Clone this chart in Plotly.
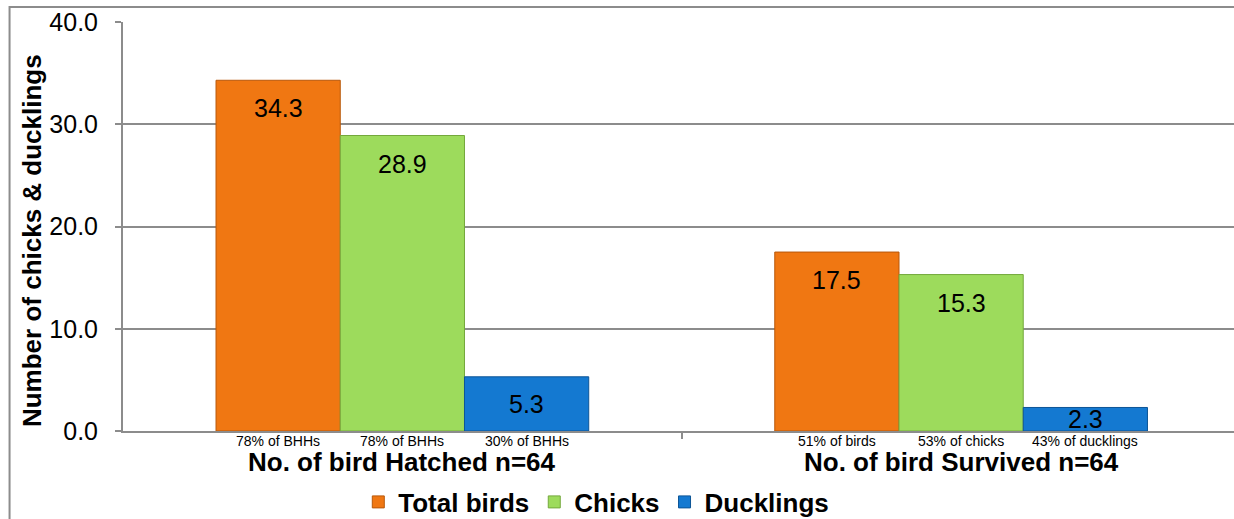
import plotly.graph_objects as go

categories = ["No. of bird Hatched n=64", "No. of bird Survived n=64"]
series_names = ["Total birds", "Chicks", "Ducklings"]
total_birds = [34.3, 17.5]
chicks = [28.9, 15.3]
ducklings = [5.3, 2.3]
pct_labels = [
    ["78% of BHHs", "51% of birds"],
    ["78% of BHHs", "53% of chicks"],
    ["30% of BHHs", "43% of ducklings"],
]
y_ticks = [0, 10, 20, 30, 40]

colors = ["#F07712", "#9DDB5C", "#1479D1"]
outlines = ["#B8580A", "#74A83C", "#0D5596"]
FONT = "Liberation Sans, Arial, sans-serif"

series = [total_birds, chicks, ducklings]
xpos = list(range(len(categories)))
bargap = 0.333
bar_w = (1 - bargap) / len(series)

fig = go.Figure()
for name, vals, c, oc in zip(series_names, series, colors, outlines):
    fig.add_trace(go.Bar(
        name=name, x=xpos, y=vals,
        marker=dict(color=c, line=dict(color=oc, width=1)),
    ))

annotations = []
px_per_unit = 409 / 40
for j, vals in enumerate(series):
    off = (j - (len(series) - 1) / 2) * bar_w
    for i, v in enumerate(vals):
        h = v * px_per_unit
        annotations.append(dict(
            x=i + off, y=v, xref="x", yref="y", text=f"{v:.1f}",
            showarrow=False, yanchor="middle", yshift=-min(28, h / 2),
            font=dict(family=FONT, size=25, color="black"),
        ))
        annotations.append(dict(
            x=i + off, y=0, xref="x", yref="y", text=pct_labels[j][i],
            showarrow=False, yanchor="middle", yshift=-10,
            font=dict(family=FONT, size=14, color="black"),
        ))
for i, cat in enumerate(categories):
    annotations.append(dict(
        x=i, y=0, xref="x", yref="y", text=f"<b>{cat}</b>",
        showarrow=False, yanchor="middle", yshift=-31,
        font=dict(family=FONT, size=26, color="black"),
    ))
annotations.append(dict(
    x=(32 - 123) / 1111.5, y=(431 - 241) / 409, xref="paper", yref="paper",
    text="<b>Number of chicks &amp; ducklings</b>", textangle=-90,
    showarrow=False, xanchor="center", yanchor="middle",
    font=dict(family=FONT, size=26, color="black"),
))

fig.update_layout(
    width=1234, height=519,
    margin=dict(l=123, r=0, t=22, b=88),
    paper_bgcolor="white", plot_bgcolor="white",
    barmode="group", bargap=bargap, bargroupgap=0,
    font=dict(family=FONT, color="black"),
    showlegend=True,
    legend=dict(
        orientation="h", x=0.426, xanchor="center",
        yref="container", y=(519 - 502) / 519, yanchor="middle",
        font=dict(family=FONT, size=26, color="black", weight="bold"),
        bgcolor="rgba(0,0,0,0)",
    ),
    annotations=annotations,
    shapes=[dict(
        type="rect", xref="paper", yref="paper",
        x0=(9.5 - 123) / 1111.5, x1=1.2, y0=-1, y1=1 + 15 / 409,
        line=dict(color="#8C8C8C", width=2), fillcolor="rgba(0,0,0,0)", layer="below",
    )],
)
fig.update_xaxes(
    range=[-0.5, -0.5 + 1111.5 / 559],
    tickvals=[0.5], ticks="outside", ticklen=6, tickwidth=1.5, tickcolor="#8C8C8C",
    showticklabels=False, showgrid=False, zeroline=False,
    showline=True, linecolor="#8C8C8C", linewidth=2,
)
fig.update_yaxes(
    range=[0, 40], tickvals=y_ticks, ticktext=[f"{t:.1f}" for t in y_ticks],
    ticks="outside", ticklen=6, tickwidth=1.5, tickcolor="#8C8C8C",
    ticklabelstandoff=12,
    tickfont=dict(family=FONT, size=25, color="black"),
    showgrid=True, gridcolor="#8C8C8C", gridwidth=1.5,
    zeroline=False, showline=True, linecolor="#8C8C8C", linewidth=2,
)

fig.write_html("out.html")
